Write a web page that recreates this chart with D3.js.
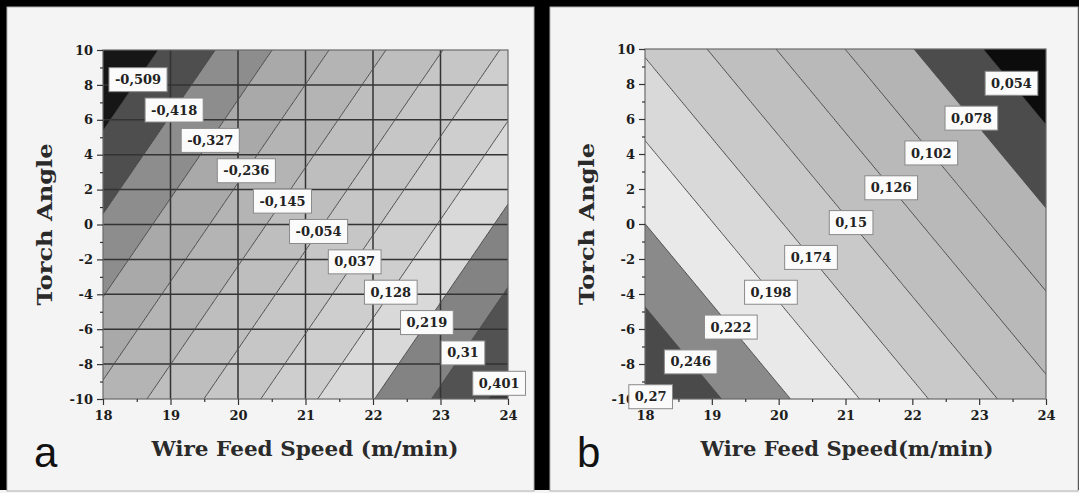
<!DOCTYPE html>
<html>
<head>
<meta charset="utf-8">
<script src="https://cdn.jsdelivr.net/npm/d3@7"></script>
<style>
  html, body { margin: 0; padding: 0; background: #000; }
  svg { display: block; }
</style>
</head>
<body>
<svg id="chart" width="1079" height="493"></svg>
<script>
// Axis ticks
const wireFeedTicks = [18, 19, 20, 21, 22, 23, 24];
const wireFeedMinor = [18.5, 19.5, 20.5, 21.5, 22.5, 23.5];
const torchAngleTicks = [-10, -8, -6, -4, -2, 0, 2, 4, 6, 8, 10];
const torchAngleMinor = [-9, -7, -5, -3, -1, 1, 3, 5, 7, 9];

// Fitted response surfaces: response = b0 + b1 * wire feed speed + b2 * torch angle
const surfaceA = [-2.3495, 0.10795, -0.01911];
const surfaceB = [0.6405, -0.023245, -0.005053];

// Contour levels (ascending)
const levelsA = [-0.509, -0.418, -0.327, -0.236, -0.145, -0.054, 0.037, 0.128, 0.219, 0.31, 0.401];
const levelsB = [0.054, 0.078, 0.102, 0.126, 0.15, 0.174, 0.198, 0.222, 0.246, 0.27];

// Grey fills: first entry is below the lowest level, then one per level
const fillsA = ["#161616", "#4e4e4e", "#8d8d8d", "#a9a9a9", "#b4b4b4", "#bebebe",
                "#c6c6c6", "#cecece", "#d9d9d9", "#838383", "#525252", "#3a3a3a"];
const fillsB = ["#0c0c0c", "#4c4c4c", "#b4b4b4", "#b9b9b9", "#bfbfbf", "#c9c9c9",
                "#d9d9d9", "#e9e9e9", "#8a8a8a", "#4a4a4a", "#3a3a3a"];

const svg = d3.select("#chart");
const W = 1079, H = 493;

// Frame: black surround with two light panels
svg.append("rect").attr("width", W).attr("height", H).attr("fill", "#000");

const panels = [
  { key: "a", box: [7, 7, 527, 484], x: [103, 508], y: [50, 399],
    surface: surfaceA, levels: levelsA, fills: fillsA, grid: true,
    xTitle: "Wire Feed Speed (m/min)", xTitleX: 305, xTitleLen: 307,
    yTitleX: 52, labelSpan: [8.3, -9.1] },
  { key: "b", box: [550, 7, 528, 484], x: [645, 1046], y: [49, 399],
    surface: surfaceB, levels: levelsB, fills: fillsB, grid: false,
    xTitle: "Wire Feed Speed(m/min)", xTitleX: 847, xTitleLen: 293,
    yTitleX: 594, labelSpan: [8.04, -9.87] }
];

const serif = "'DejaVu Serif', 'Liberation Serif', serif";
const fmt = v => String(v).replace(".", ",");

// Light strip along the bottom edge
svg.append("rect").attr("x", 0).attr("y", 490).attr("width", W).attr("height", 3).attr("fill", "#f4f4f4");

panels.forEach(p => {
  const g = svg.append("g");

  g.append("rect")
    .attr("x", p.box[0]).attr("y", p.box[1])
    .attr("width", p.box[2]).attr("height", p.box[3])
    .attr("fill", "#f4f4f4").attr("stroke", "#b0b0b0").attr("stroke-width", 1);

  const xScale = d3.scaleLinear().domain([18, 24]).range(p.x);
  const yScale = d3.scaleLinear().domain([-10, 10]).range([p.y[1], p.y[0]]);

  const clipId = "clip-" + p.key;
  svg.append("clipPath").attr("id", clipId)
    .append("rect")
    .attr("x", p.x[0]).attr("y", p.y[0])
    .attr("width", p.x[1] - p.x[0]).attr("height", p.y[1] - p.y[0]);

  // Sample the surface on a fine grid
  const n = 241, m = 201;
  const gx = d3.scaleLinear().domain([0, n - 1]).range([18, 24]);
  const gy = d3.scaleLinear().domain([0, m - 1]).range([10, -10]);
  const values = new Float64Array(n * m);
  for (let j = 0; j < m; j++) {
    for (let i = 0; i < n; i++) {
      const s = p.surface;
      values[j * n + i] = s[0] + s[1] * gx(i) + s[2] * gy(j);
    }
  }
  const contours = d3.contours().size([n, m]).thresholds(p.levels)(values);

  const cx = d3.scaleLinear().domain([0.5, n - 0.5]).range([18, 24]);
  const cy = d3.scaleLinear().domain([0.5, m - 0.5]).range([10, -10]);
  const path = d3.geoPath(d3.geoTransform({
    point(x, y) { this.stream.point(xScale(cx(x)), yScale(cy(y))); }
  }));

  const plot = g.append("g").attr("clip-path", `url(#${clipId})`);
  plot.append("rect")
    .attr("x", p.x[0]).attr("y", p.y[0])
    .attr("width", p.x[1] - p.x[0]).attr("height", p.y[1] - p.y[0])
    .attr("fill", p.fills[0]);

  plot.selectAll("path.band").data(contours).join("path")
    .attr("class", "band")
    .attr("d", path)
    .attr("fill", (d, i) => p.fills[i + 1]);

  // Grid lines
  if (p.grid) {
    plot.selectAll("line.gx").data(wireFeedTicks.slice(1, -1)).join("line")
      .attr("x1", d => xScale(d)).attr("x2", d => xScale(d))
      .attr("y1", p.y[0]).attr("y2", p.y[1])
      .attr("stroke", "#333").attr("stroke-width", 1.5);
    plot.selectAll("line.gy").data(torchAngleTicks.slice(1, -1)).join("line")
      .attr("y1", d => yScale(d)).attr("y2", d => yScale(d))
      .attr("x1", p.x[0]).attr("x2", p.x[1])
      .attr("stroke", "#333").attr("stroke-width", 1.5);
  }

  plot.selectAll("path.iso").data(contours).join("path")
    .attr("class", "iso")
    .attr("d", path)
    .attr("fill", "none")
    .attr("stroke", "#4a4a4a").attr("stroke-width", 1);

  // Plot frame
  g.append("rect")
    .attr("x", p.x[0]).attr("y", p.y[0])
    .attr("width", p.x[1] - p.x[0]).attr("height", p.y[1] - p.y[0])
    .attr("fill", "none").attr("stroke", "#6a6a6a").attr("stroke-width", 1.2);

  // Axes
  const styleAxis = sel => {
    sel.select(".domain").remove();
    sel.selectAll("line").attr("stroke", "#333").attr("stroke-width", 1.2);
    sel.selectAll("text").attr("fill", "#1c1c1c")
      .style("font-family", serif).style("font-weight", "bold").style("font-size", "13px");
  };
  g.append("g").attr("transform", `translate(0,${p.y[1]})`)
    .call(d3.axisBottom(xScale).tickValues(wireFeedTicks).tickSize(6).tickPadding(6)
      .tickFormat(d => String(d)))
    .call(styleAxis);
  g.append("g").attr("transform", `translate(0,${p.y[1]})`)
    .call(d3.axisBottom(xScale).tickValues(wireFeedMinor).tickSize(3).tickFormat(""))
    .call(styleAxis);
  g.append("g").attr("transform", `translate(${p.x[0]},0)`)
    .call(d3.axisLeft(yScale).tickValues(torchAngleTicks).tickSize(6).tickPadding(4)
      .tickFormat(d => String(d)))
    .call(styleAxis);
  g.append("g").attr("transform", `translate(${p.x[0]},0)`)
    .call(d3.axisLeft(yScale).tickValues(torchAngleMinor).tickSize(3).tickFormat(""))
    .call(styleAxis);

  // Axis titles
  g.append("text")
    .attr("x", p.xTitleX).attr("y", 456)
    .attr("text-anchor", "middle")
    .attr("textLength", p.xTitleLen).attr("lengthAdjust", "spacingAndGlyphs")
    .style("font-family", serif).style("font-weight", "bold").style("font-size", "20px")
    .attr("fill", "#2a2a2a")
    .text(p.xTitle);
  g.append("text")
    .attr("transform", `translate(${p.yTitleX},${(p.y[0] + p.y[1]) / 2}) rotate(-90)`)
    .attr("text-anchor", "middle")
    .attr("textLength", 162).attr("lengthAdjust", "spacingAndGlyphs")
    .style("font-family", serif).style("font-weight", "bold").style("font-size", "20px")
    .attr("fill", "#2a2a2a")
    .text("Torch Angle");

  // Panel letter
  g.append("text")
    .attr("x", p.box[0] + 27).attr("y", 467)
    .style("font-family", "'Liberation Sans', Arial, sans-serif").style("font-size", "42px")
    .attr("fill", "#111")
    .text(p.key);

  // Contour labels placed along a diagonal through the plot
  const labelY = d3.scaleLinear().domain([0, p.levels.length - 1]).range(p.labelSpan);
  const labels = g.append("g");
  p.levels.forEach((lv, k) => {
    const yv = labelY(k);
    const s = p.surface;
    const xv = (lv - s[0] - s[2] * yv) / s[1];
    const px = xScale(xv), py = yScale(yv);
    const lg = labels.append("g").attr("transform", `translate(${px},${py})`);
    const box = lg.append("rect");
    const t = lg.append("text")
      .attr("text-anchor", "middle").attr("dy", "0.35em")
      .style("font-family", serif).style("font-weight", "bold").style("font-size", "13px")
      .attr("fill", "#222")
      .text(fmt(lv));
    const w = t.node().getComputedTextLength() + 12;
    box.attr("x", -w / 2).attr("y", -12).attr("width", w).attr("height", 24)
      .attr("fill", "#fbfbfb").attr("stroke", "#8a8a8a").attr("stroke-width", 1);
  });
});
</script>
</body>
</html>
